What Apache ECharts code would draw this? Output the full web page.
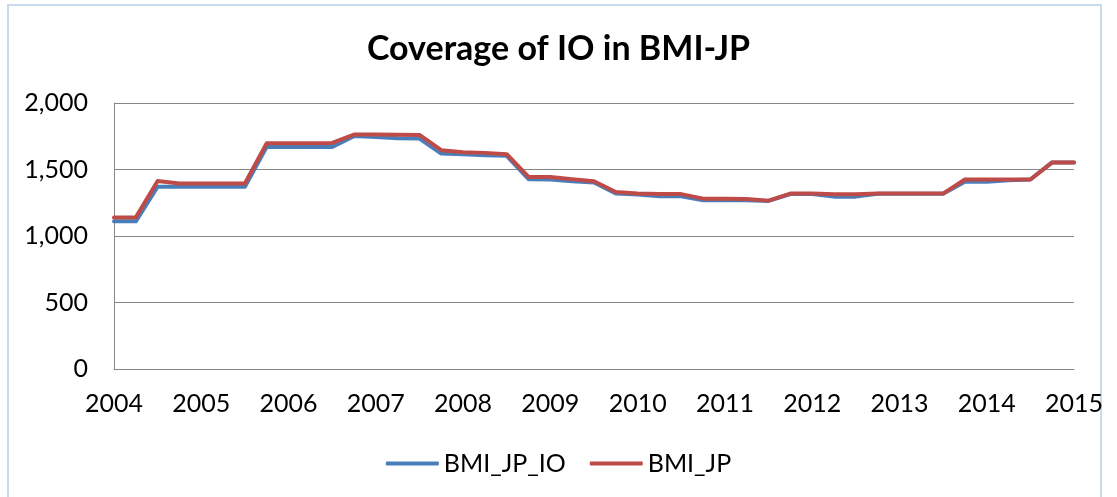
<!DOCTYPE html>
<html>
<head>
<meta charset="utf-8">
<script src="https://cdn.jsdelivr.net/npm/echarts@6/dist/echarts.min.js"></script>
<style>
html,body{margin:0;padding:0;background:#fff;}
#c{width:1117px;height:497px;}
</style>
</head>
<body>
<div id="c"></div>
<script>
var titleText = 'Coverage of IO in BMI-JP';
var categories = [
  '2004 Q1','2004 Q2','2004 Q3','2004 Q4',
  '2005 Q1','2005 Q2','2005 Q3','2005 Q4',
  '2006 Q1','2006 Q2','2006 Q3','2006 Q4',
  '2007 Q1','2007 Q2','2007 Q3','2007 Q4',
  '2008 Q1','2008 Q2','2008 Q3','2008 Q4',
  '2009 Q1','2009 Q2','2009 Q3','2009 Q4',
  '2010 Q1','2010 Q2','2010 Q3','2010 Q4',
  '2011 Q1','2011 Q2','2011 Q3','2011 Q4',
  '2012 Q1','2012 Q2','2012 Q3','2012 Q4',
  '2013 Q1','2013 Q2','2013 Q3','2013 Q4',
  '2014 Q1','2014 Q2','2014 Q3','2014 Q4',
  '2015 Q1'
];
var seriesNames = ['BMI_JP_IO', 'BMI_JP'];
var bmiJpIo = [
  1110,1110,1370,1370,1370,1370,1370,1670,1670,1670,1670,1751,1745,1735,1733,
  1620,1615,1608,1603,1427,1425,1412,1402,1319,1312,1299,1299,1269,1269,1269,
  1264,1315,1315,1296,1296,1317,1317,1317,1317,1407,1408,1420,1425,1553,1553
];
var bmiJp = [
  1140,1140,1414,1395,1395,1395,1395,1698,1698,1698,1700,1763,1763,1762,1760,
  1645,1630,1625,1615,1444,1444,1427,1412,1331,1319,1315,1315,1281,1281,1279,
  1266,1319,1319,1313,1313,1319,1319,1319,1319,1425,1425,1425,1425,1553,1553
];
var yTicks = { min: 0, max: 2000, interval: 500 };

var FONT = 'Lato';
var chart = echarts.init(document.getElementById('c'), null, {renderer: 'canvas'});
chart.setOption({
  animation: false,
  backgroundColor: '#ffffff',
  title: {
    text: titleText,
    left: 'center',
    top: 27,
    textStyle: { fontFamily: FONT, fontWeight: 'bold', fontSize: 34, color: '#000' }
  },
  graphic: [{
    type: 'rect',
    shape: { x: 8, y: 5, width: 1093, height: 510 },
    style: { fill: 'none', stroke: '#C9D9EF', lineWidth: 2 },
    silent: true, z: -1
  }],
  grid: { left: 114, right: 43, top: 103, bottom: 128, containLabel: false },
  legend: {
    data: seriesNames,
    left: 'center',
    top: 446,
    icon: 'roundRect',
    itemWidth: 53,
    itemHeight: 4,
    itemGap: 24,
    textStyle: { fontFamily: FONT, fontSize: 25, color: '#000' }
  },
  xAxis: {
    type: 'category',
    data: categories,
    boundaryGap: false,
    axisLine: { show: true, lineStyle: { color: '#868686', width: 1 } },
    axisTick: { show: false },
    splitLine: { show: false },
    axisLabel: {
      interval: 3,
      margin: 22,
      fontFamily: FONT, fontSize: 25, color: '#000',
      formatter: function (v) { return v.split(' ')[0]; }
    }
  },
  yAxis: {
    type: 'value',
    min: yTicks.min, max: yTicks.max, interval: yTicks.interval,
    axisLine: { show: true, lineStyle: { color: '#868686', width: 1 } },
    axisTick: { show: false },
    splitLine: { show: true, lineStyle: { color: '#868686', width: 1 } },
    axisLabel: {
      margin: 26,
      fontFamily: FONT, fontSize: 25, color: '#000',
      formatter: function (v) { return v.toLocaleString('en-US'); }
    }
  },
  series: [
    {
      name: seriesNames[0], type: 'line', data: bmiJpIo,
      showSymbol: false, symbol: 'none',
      lineStyle: { color: '#4A7EBB', width: 4, cap: 'round', join: 'round' },
      itemStyle: { color: '#4A7EBB' }
    },
    {
      name: seriesNames[1], type: 'line', data: bmiJp,
      showSymbol: false, symbol: 'none',
      lineStyle: { color: '#BE4B48', width: 4, cap: 'round', join: 'round' },
      itemStyle: { color: '#BE4B48' }
    }
  ]
});
</script>
</body>
</html>
